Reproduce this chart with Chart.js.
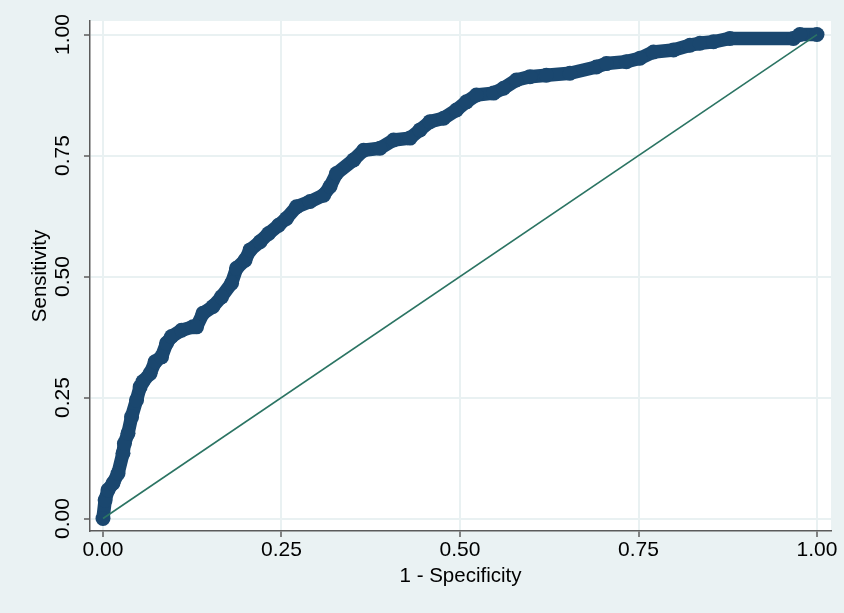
<!DOCTYPE html>
<html>
<head>
<meta charset="utf-8">
<script src="https://cdn.jsdelivr.net/npm/chart.js@4/dist/chart.umd.min.js"></script>
<style>
  body { margin: 0; background: #eaf2f3; }
  canvas { display: block; }
</style>
</head>
<body>
<canvas id="rocChart" width="844" height="613"></canvas>
<script>
// ROC curve points (1 - specificity, sensitivity)
const fprValues = [
  0.000, 0.003, 0.007, 0.014, 0.021, 0.028, 0.030, 0.035, 0.040, 0.047,
  0.052, 0.056, 0.066, 0.073, 0.082, 0.089, 0.096, 0.110, 0.126, 0.131,
  0.140, 0.154, 0.166, 0.180, 0.187, 0.199, 0.206, 0.220, 0.232, 0.246,
  0.257, 0.271, 0.290, 0.309, 0.318, 0.327, 0.351, 0.365, 0.388, 0.407,
  0.430, 0.444, 0.458, 0.477, 0.495, 0.509, 0.523, 0.547, 0.561, 0.579,
  0.598, 0.621, 0.654, 0.691, 0.705, 0.733, 0.752, 0.771, 0.799, 0.822,
  0.836, 0.855, 0.878, 0.967, 0.976, 1.000
];
const tprValues = [
  0.000, 0.038, 0.059, 0.073, 0.093, 0.135, 0.155, 0.176, 0.210, 0.245,
  0.272, 0.283, 0.300, 0.324, 0.334, 0.362, 0.376, 0.389, 0.396, 0.396,
  0.424, 0.438, 0.458, 0.486, 0.517, 0.534, 0.555, 0.572, 0.589, 0.606,
  0.620, 0.644, 0.655, 0.668, 0.686, 0.713, 0.741, 0.761, 0.765, 0.782,
  0.786, 0.803, 0.820, 0.827, 0.844, 0.861, 0.875, 0.879, 0.889, 0.906,
  0.913, 0.916, 0.920, 0.933, 0.940, 0.944, 0.951, 0.964, 0.968, 0.978,
  0.982, 0.985, 0.992, 0.992, 1.000, 1.000
];
// reference line
const diagX = [0, 1];
const diagY = [0, 1];
const tickValues = [0, 0.25, 0.5, 0.75, 1];

const navy = "#1a476f";
const refGreen = "#2b7463";
const axisGrey = "#5b5b5b";
const gridCol = "#e9f1f2";
const fontFam = "'Liberation Sans', Arial, sans-serif";

//plot region is white, the rest keeps the page colour
const plotBg = {
  id: "plotBg",
  beforeDraw(chart) {
    const { ctx, chartArea: a } = chart;
    ctx.save();
    ctx.fillStyle = "#ffffff";
    ctx.fillRect(a.left, a.top, a.right - a.left, a.bottom - a.top);
    ctx.restore();
  },
};

//Stata writes the y labels turned upright, so they are drawn here from the y scale
const yLabels = {
  id: "yLabels",
  afterDraw(chart) {
    const { ctx } = chart;
    const yScale = chart.scales.y;
    ctx.save();
    ctx.fillStyle = "#000";
    ctx.font = `21px ${fontFam}`;
    ctx.textAlign = "center";
    ctx.textBaseline = "middle";
    tickValues.forEach((v) => {
      const py = yScale.getPixelForValue(v);
      ctx.save();
      ctx.translate(63.5, py);
      ctx.rotate(-Math.PI / 2);
      ctx.fillText(v.toFixed(2), 0, 0);
      ctx.restore();
    });
    ctx.restore();
  },
};

const rocPoints = fprValues.map((x, i) => ({ x: x, y: tprValues[i] }));
const diagPoints = diagX.map((x, i) => ({ x: x, y: diagY[i] }));

const config = {
  type: "scatter",
  data: {
    datasets: [
      {
        label: "Reference",
        data: diagPoints,
        showLine: true,
        borderColor: refGreen,
        borderWidth: 1.6,
        pointRadius: 0,
        order: 0,
      },
      {
        label: "ROC",
        data: rocPoints,
        showLine: true,
        borderColor: navy,
        backgroundColor: navy,
        borderWidth: 13.5,
        borderJoinStyle: "round",
        borderCapStyle: "round",
        pointRadius: 7.5,
        pointBorderWidth: 0,
        order: 1,
      },
    ],
  },
  options: {
    responsive: false,
    animation: false,
    layout: { padding: { top: 21, right: 13, left: 0, bottom: 0 } },
    plugins: {
      legend: { display: false },
      tooltip: { enabled: false },
    },
    scales: {
      x: {
        type: "linear",
        min: -0.0182,
        max: 1.0196,
        afterBuildTicks: (s) => {
          s.ticks = tickValues.map((v) => ({ value: v }));
        },
        afterFit: (s) => {
          s.height = 82;
        },
        ticks: {
          callback: (v) => Number(v).toFixed(2),
          color: "#000",
          font: { family: fontFam, size: 21 },
          padding: 1,
          maxRotation: 0,
          autoSkip: false,
        },
        grid: {
          color: gridCol,
          lineWidth: 2,
          tickColor: axisGrey,
          tickLength: 6,
          tickWidth: 1.5,
        },
        border: { color: axisGrey, width: 1.5 },
        title: {
          display: true,
          text: "1 - Specificity",
          color: "#000",
          font: { family: fontFam, size: 20.5 },
          padding: { top: 0, bottom: 24 },
        },
      },
      y: {
        type: "linear",
        min: -0.0258,
        max: 1.028,
        afterBuildTicks: (s) => {
          s.ticks = tickValues.map((v) => ({ value: v }));
        },
        afterFit: (s) => {
          s.width = 90;
        },
        ticks: {
          color: "rgba(0,0,0,0)",
          font: { family: fontFam, size: 21 },
        },
        grid: {
          color: gridCol,
          lineWidth: 2,
          tickColor: axisGrey,
          tickLength: 6,
          tickWidth: 1.5,
        },
        border: { color: axisGrey, width: 1.5 },
        title: {
          display: true,
          text: "Sensitivity",
          color: "#000",
          font: { family: fontFam, size: 20.5 },
          padding: { top: 28, bottom: 0 },
        },
      },
    },
  },
  plugins: [plotBg, yLabels],
};

const ctx = document.getElementById("rocChart").getContext("2d");
new Chart(ctx, config);
</script>
</body>
</html>
